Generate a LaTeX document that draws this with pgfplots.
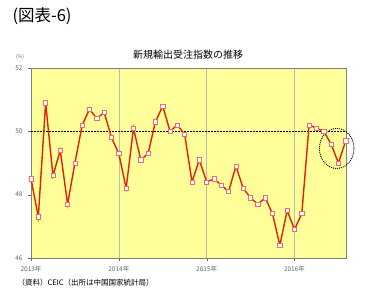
\documentclass[border=0pt]{standalone}
\usepackage{pgfplots}
\pgfplotsset{compat=1.18}
\usepackage{fontspec}
\setmainfont{Noto Sans CJK JP}
\definecolor{bgyellow}{RGB}{255,255,153}
\definecolor{linered}{RGB}{228,32,10}
\definecolor{markpink}{RGB}{235,110,110}
\pgfplotstableread{
m v
0 48.5
1 47.3
2 50.9
3 48.6
4 49.4
5 47.7
6 49.0
7 50.2
8 50.7
9 50.4
10 50.6
11 49.8
12 49.3
13 48.2
14 50.1
15 49.1
16 49.3
17 50.3
18 50.8
19 50.0
20 50.2
21 49.9
22 48.4
23 49.1
24 48.4
25 48.5
26 48.3
27 48.1
28 48.9
29 48.2
30 47.9
31 47.7
32 47.9
33 47.4
34 46.4
35 47.5
36 46.9
37 47.4
38 50.2
39 50.1
40 50.0
41 49.6
42 49.0
43 49.7
}\datatable
\begin{document}
\begin{tikzpicture}[x=1pt,y=1pt]
\path (0,0) rectangle (372,301);
\node[anchor=west,font=\fontsize{16.5}{17}\selectfont] at (9,285) {(図表-6)};
\node[font=\fontsize{10}{11}\selectfont] at (188,246) {新規輸出受注指数の推移};
\node[font=\fontsize{5}{6}\selectfont,text=gray!80!black] at (20,244) {(\%)};
\node[anchor=west,font=\fontsize{7.5}{8}\selectfont] at (14,18) {（資料）CEIC（出所は中国国家統計局）};
\begin{axis}[at={(31pt,43pt)}, anchor=south west, scale only axis,
  width=314.7pt, height=190pt,
  xmin=0, xmax=43, ymin=46, ymax=52,
  ytick={46,48,50,52}, xtick={0,12,24,36},
  xticklabels={2013年,2014年,2015年,2016年},
  ytick pos=left, xtick pos=bottom,
  xmajorgrids, grid style={gray!55, line width=0.5pt},
  axis background/.style={fill=bgyellow},
  axis line style={gray},
  tick style={gray!80!black},
  tick align=outside, major tick length=3pt,
  ticklabel style={font=\fontsize{6.5}{7}\selectfont, text=gray!80!black},
  /pgf/number format/assume math mode=true,
  yticklabel style={xshift=-2pt},
  xticklabel style={yshift=-1pt},
  clip=false]
\addplot[black, dash pattern=on 2pt off 1pt, line width=0.8pt] coordinates {(0,50) (43,50)};
\addplot[linered, line width=1.4pt, mark=square*, mark size=2.1pt,
  mark options={fill=white, draw=markpink, line width=0.6pt}] table[x=m,y=v] {\datatable};
\draw[black, dash pattern=on 1pt off 1pt, line width=0.9pt] (axis cs:41.77,49.46) ellipse [x radius=17.3pt, y radius=20pt];
\end{axis}
\end{tikzpicture}
\end{document}
